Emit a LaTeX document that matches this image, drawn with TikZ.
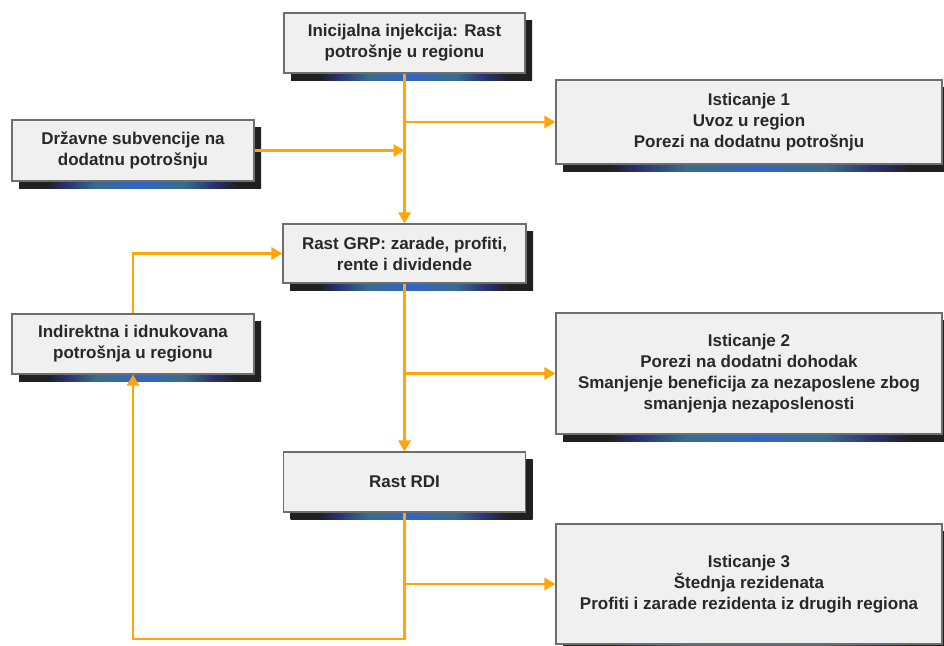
\documentclass[tikz,border=0pt]{standalone}
\usepackage{fontspec}
\setmainfont{Liberation Sans}
\usepackage{tikz}
\usetikzlibrary{arrows.meta,shadows}
\definecolor{flow orange}{RGB}{255,165,10}
\definecolor{box grey}{RGB}{240,240,240}
\definecolor{box line}{RGB}{110,110,110}
\definecolor{text grey}{RGB}{40,40,40}
\definecolor{sh dark}{RGB}{32,32,34}
\definecolor{sh navy}{RGB}{42,50,120}
\definecolor{sh teal}{RGB}{55,110,140}
\definecolor{sh blue}{RGB}{50,100,200}
\pgfdeclarehorizontalshading{boxglow}{100bp}{color(0bp)=(sh dark); color(31bp)=(sh dark);
  color(35bp)=(sh navy); color(41bp)=(sh teal); color(50bp)=(sh blue);
  color(59bp)=(sh teal); color(65bp)=(sh navy); color(70bp)=(sh dark); color(100bp)=(sh dark)}

\begin{document}
\begin{tikzpicture}[x=1pt,y=-1pt,
		flowbox/.style={draw=box line, line width=1.1pt, fill=box grey, text=text grey,
			align=center, inner sep=0pt,
			font=\fontsize{17}{21}\selectfont\bfseries,
			general shadow={shadow xshift=7pt, shadow yshift=-7pt, shade, shading=boxglow}},
		flow/.style={flow orange, line width=2.8pt, -{Triangle[length=11pt,width=12pt]}}]
			\clip (0,0) rectangle (944,645);
			% middle column
			\node[flowbox, minimum width=241pt, minimum height=60pt] (init) at (404.5,43)
				{Inicijalna injekcija: Rast\\potrošnje u regionu};
			\node[flowbox, minimum width=243pt, minimum height=59pt] (grp) at (404.5,253.5)
				{Rast GRP: zarade, profiti,\\rente i dividende};
			\node[flowbox, minimum width=242pt, minimum height=60pt] (rdi) at (404.5,482)
				{Rast RDI};
			% left column
			\node[flowbox, minimum width=242pt, minimum height=61pt] (subv) at (133,150.5)
				{Državne subvencije na\\dodatnu potrošnju};
			\node[flowbox, minimum width=242pt, minimum height=60pt] (ind) at (133,344)
				{Indirektna i idnukovana\\potrošnja u regionu};
			% right column
			\node[flowbox, minimum width=386pt, minimum height=84pt] (ist1) at (749,122)
				{Isticanje 1\\Uvoz u region\\Porezi na dodatnu potrošnju};
			\node[flowbox, minimum width=386pt, minimum height=121pt] (ist2) at (749,373.5)
				{Isticanje 2\\Porezi na dodatni dohodak\\Smanjenje beneficija za nezaposlene zbog\\smanjenja nezaposlenosti};
			\node[flowbox, minimum width=386pt, minimum height=120pt] (ist3) at (749,584)
				{Isticanje 3\\Štednja rezidenata\\Profiti i zarade rezidenta iz drugih regiona};
			% junctions
			\coordinate (j1) at (init.south |- ist1.west);
			\coordinate (j2) at (init.south |- subv.east);
			\coordinate (j3) at (grp.south |- ist2.west);
			\coordinate (j4) at (rdi.south |- ist3.west);
			\coordinate (loop) at (404.5,639);
			% arrows
			\draw[flow] (init.south) -- (grp.north);
			\draw[flow] (j1) -- (ist1.west);
			\draw[flow] (subv.east) -- (j2);
			\draw[flow] (grp.south) -- (rdi.north);
			\draw[flow] (j3) -- (ist2.west);
			\draw[flow] (j4) -- (ist3.west);
			\draw[flow, line join=miter] (rdi.south) -- (loop) -| (ind.south);
			\draw[flow, line join=miter] (ind.north) |- (grp.west);
\end{tikzpicture}
\end{document}
